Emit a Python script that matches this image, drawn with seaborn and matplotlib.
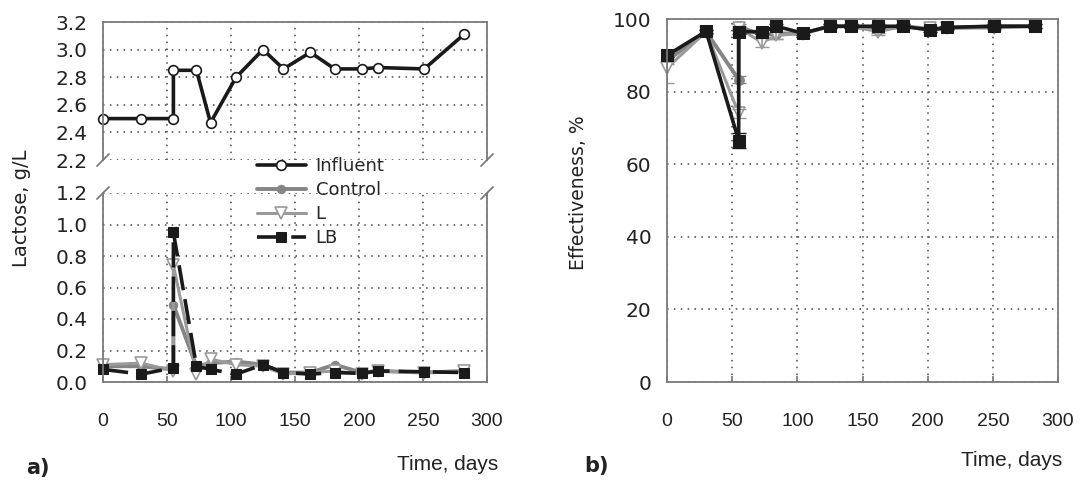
import matplotlib
matplotlib.use("Agg")
import matplotlib.pyplot as plt
import seaborn as sns
import numpy as np

# sampling days (two readings on day 55)
days = [0, 30, 55, 55, 73, 84, 104, 125, 141, 162, 181, 202, 215, 251, 282]

# lactose, g/L
influent = [2.50, 2.50, 2.50, 2.85, 2.85, 2.47, 2.80, 3.00, 2.86, 2.98, 2.86, 2.86, 2.87, 2.86, 3.11]
lac_control = [0.10, 0.10, 0.08, 0.49, 0.10, 0.12, 0.13, 0.11, 0.06, 0.06, 0.11, 0.06, 0.07, 0.06, 0.07]
lac_l = [0.11, 0.12, 0.07, 0.74, 0.05, 0.145, 0.11, 0.10, 0.05, 0.06, 0.07, 0.05, 0.07, 0.06, 0.07]
lac_lb = [0.08, 0.05, 0.09, 0.95, 0.10, 0.08, 0.05, 0.11, 0.06, 0.05, 0.06, 0.055, 0.07, 0.065, 0.06]

# effectiveness, %
eff_control = [88.5, 96.5, 83.3, 98.0, 95.5, 96.0, 96.0, 98.0, 98.0, 97.0, 98.0, 97.0, 97.5, 98.0, 98.0]
eff_l = [86.5, 96.5, 74.0, 97.5, 93.5, 95.5, 96.0, 98.0, 98.0, 96.5, 98.0, 97.5, 97.5, 97.5, 98.0]
eff_lb = [90.0, 96.6, 66.5, 96.5, 96.5, 98.0, 96.1, 98.0, 98.0, 98.0, 98.0, 97.0, 97.7, 98.0, 98.0]
err_control = [1.0, 0.5, 1.0, 0.5, 0.8, 1.5, 0.5, 0.5, 0.5, 0.8, 0.5, 0.5, 0.5, 0.5, 0.5]
err_l = [4.0, 0.5, 1.2, 0.5, 1.2, 1.0, 0.5, 0.5, 0.5, 0.8, 0.5, 0.5, 0.5, 0.5, 0.5]
err_lb = [0.5, 0.5, 2.0, 0.5, 0.5, 0.5, 0.5, 0.5, 0.5, 0.5, 0.5, 0.5, 0.5, 0.5, 0.5]

sns.set_theme(style="white")
plt.rcParams['font.family'] = ['DejaVu Sans']
narrow = ['Liberation Sans', 'DejaVu Sans']

BLACK = '#1a1a1a'
GREY = '#858585'
LGREY = '#9a9a9a'
SPINE = '#7a7a7a'

fig = plt.figure(figsize=(10.82, 4.86), dpi=100)
W, H = 1082, 486


def box(l, t, r, b):
    return [l / W, 1 - b / H, (r - l) / W, (b - t) / H]


ax_top = fig.add_axes(box(103, 22, 487, 160))
ax_low = fig.add_axes(box(103, 193, 487, 382))
ax_r = fig.add_axes(box(667, 19, 1058, 382))


def style(ax):
    ax.grid(True, linestyle=(0, (1, 3.5)), color='#444444', linewidth=1.1)
    for s in ax.spines.values():
        s.set_color(SPINE)
        s.set_linewidth(1.3)
    ax.tick_params(axis='y', length=0, pad=11, labelsize=14.5, labelcolor='#222222')
    ax.tick_params(axis='x', direction='in', length=4, color=SPINE, pad=22,
                   labelsize=14, labelcolor='#222222', bottom=True)
    ax.set_xlim(0, 300)
    ax.set_xticks(np.arange(0, 301, 50))


line_kw = dict(estimator=None, sort=False, clip_on=False, legend=False)

# ---- a) lactose, broken axis
sns.lineplot(x=days, y=influent, ax=ax_top, color=BLACK, lw=2.6, marker='o', ms=7,
             markerfacecolor='white', markeredgecolor=BLACK, markeredgewidth=1.2,
             label='Influent', **line_kw)
sns.lineplot(x=days, y=lac_control, ax=ax_low, color=GREY, lw=2.8, marker='o', ms=6,
             markerfacecolor=GREY, markeredgecolor=GREY, label='Control', **line_kw)
sns.lineplot(x=days, y=lac_l, ax=ax_low, color=LGREY, lw=2.2, marker='v', ms=8,
             markerfacecolor='white', markeredgecolor=LGREY, markeredgewidth=1.2,
             label='L', **line_kw)
sns.lineplot(x=days, y=lac_lb, ax=ax_low, color=BLACK, lw=2.6, marker='s', ms=7.5,
             markerfacecolor=BLACK, markeredgecolor=BLACK, linestyle=(0, (7, 2.5)),
             label='LB', **line_kw)

for ax in (ax_top, ax_low):
    style(ax)
ax_top.set_ylim(2.2, 3.2)
ax_top.set_yticks(np.arange(2.2, 3.21, 0.2))
ax_top.set_yticklabels([f'{v:.1f}' for v in np.arange(2.2, 3.21, 0.2)])
ax_top.spines['bottom'].set_visible(False)
ax_top.tick_params(axis='x', bottom=False, labelbottom=False)
ax_top.set_xlabel('')
ax_low.set_ylim(0, 1.2)
ax_low.set_yticks(np.arange(0, 1.21, 0.2))
ax_low.set_yticklabels([f'{v:.1f}' for v in np.arange(0, 1.21, 0.2)])
ax_low.spines['top'].set_visible(False)

# break marks
for ax, yv in ((ax_top, 0.0), (ax_low, 1.0)):
    bb = ax.get_position()
    dx = 6 / (bb.width * W)
    dy = 6 / (bb.height * H)
    for xv in (0.0, 1.0):
        ax.plot([xv - dx, xv + dx], [yv - dy, yv + dy], transform=ax.transAxes,
                color=SPINE, lw=1.3, clip_on=False)

fig.text(22 / W, 1 - 208 / H, 'Lactose, g/L', rotation=90, ha='center', va='center',
         fontsize=14, color='#222222')

# ---- b) effectiveness
sns.lineplot(x=days, y=eff_control, ax=ax_r, color=GREY, lw=2.8, marker='o', ms=7,
             markerfacecolor=GREY, markeredgecolor=GREY, **line_kw)
ax_r.errorbar(days, eff_control, yerr=err_control, fmt='none', ecolor=GREY, capsize=5, lw=1.2)
sns.lineplot(x=days, y=eff_l, ax=ax_r, color=LGREY, lw=2.2, marker='v', ms=9,
             markerfacecolor='white', markeredgecolor=LGREY, markeredgewidth=1.2, **line_kw)
ax_r.errorbar(days, eff_l, yerr=err_l, fmt='none', ecolor=LGREY, capsize=5, lw=1.2)
sns.lineplot(x=days, y=eff_lb, ax=ax_r, color=BLACK, lw=2.6, marker='s', ms=8,
             markerfacecolor=BLACK, markeredgecolor=BLACK, **line_kw)
ax_r.errorbar(days, eff_lb, yerr=err_lb, fmt='none', ecolor=BLACK, capsize=5, lw=1.2)

style(ax_r)
ax_r.set_ylim(0, 100)
ax_r.set_yticks(np.arange(0, 101, 20))
fig.text(578 / W, 1 - 193 / H, 'Effectiveness, %', rotation=90, ha='center', va='center',
         fontsize=13.5, color='#222222')

for ax in (ax_low, ax_r):
    ax.set_xlabel('')
    ax.set_ylabel('')
    for lab in ax.get_xticklabels():
        lab.set_family(narrow)
ax_top.set_ylabel('')

# legend spanning the break
h1, l1 = ax_top.get_legend_handles_labels()
h2, l2 = ax_low.get_legend_handles_labels()
fig.legend(h1 + h2, l1 + l2, loc='upper left', bbox_to_anchor=(257 / W, 1 - 157 / H),
           frameon=False, fontsize=13, borderpad=0, borderaxespad=0, handlelength=2.7,
           handletextpad=0.55, labelspacing=0.33)

fig.text(448 / W, 1 - 464 / H, 'Time, days', ha='center', va='center', fontsize=15,
         family=narrow, color='#222222')
fig.text(1012 / W, 1 - 460 / H, 'Time, days', ha='center', va='center', fontsize=15,
         family=narrow, color='#222222')
fig.text(38 / W, 1 - 468 / H, 'a)', ha='center', va='center', fontsize=15,
         fontweight='bold', color='#222222')
fig.text(596 / W, 1 - 466 / H, 'b)', ha='center', va='center', fontsize=15,
         fontweight='bold', color='#222222')

fig.savefig('out.png', dpi=100)
